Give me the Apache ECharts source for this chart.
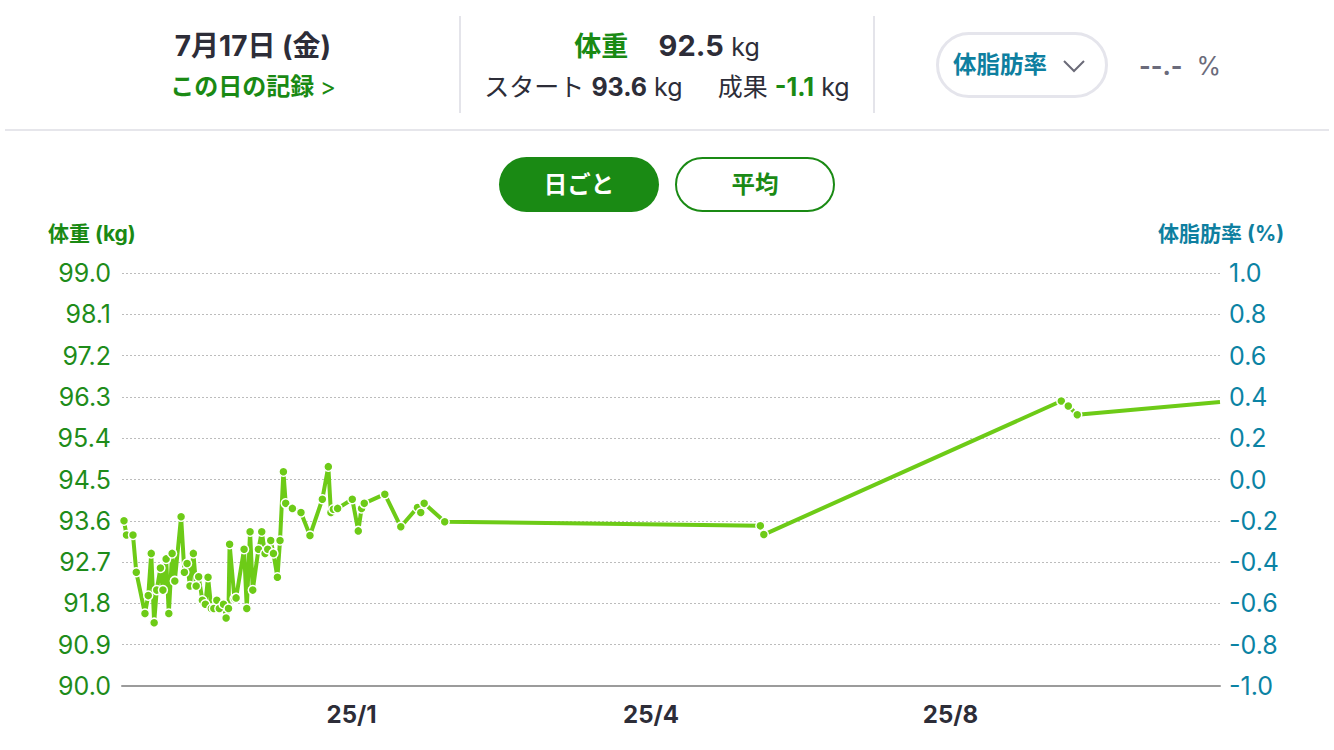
<!DOCTYPE html>
<html>
<head>
<meta charset="utf-8">
<script src="https://cdn.jsdelivr.net/npm/echarts@6/dist/echarts.min.js"></script>
<style>
  html, body { margin:0; padding:0; width:1334px; height:750px; background:#fff; overflow:hidden;
    font-family: "Inter", "Noto Sans CJK JP", sans-serif; }
  #chart { position:absolute; left:0; top:0; width:1334px; height:750px; }
  .abs { position:absolute; white-space:nowrap; }
  .green { color:#1a8a14; }
  .teal { color:#0e7fa0; }
  .dark { color:#2d2d38; }
  .b { font-weight:700; }
</style>
</head>
<body>
<div id="chart"></div>

<!-- header -->
<div class="abs dark b" style="left:0;width:506px;top:28px;text-align:center;font-size:28px;line-height:36px;">7月17日 (金)</div>
<div class="abs green b" style="left:0;width:506px;top:71px;text-align:center;font-size:24px;line-height:32px;">この日の記録 <span style="font-weight:400;">&gt;</span></div>
<div class="abs" style="left:459px;top:16px;width:2px;height:97px;background:#e4e4ea;"></div>
<div class="abs" style="left:873px;top:16px;width:2px;height:97px;background:#e4e4ea;"></div>
<div class="abs" style="left:461px;width:412px;top:27px;text-align:center;font-size:27px;line-height:38px;">
  <span class="green b">体重</span>&nbsp;&nbsp;&nbsp;&nbsp;<span class="dark b" style="font-size:29px;">92.5</span> <span class="dark" style="font-size:25px;">kg</span>
</div>
<div class="abs dark" style="left:461px;width:412px;top:71px;text-align:center;font-size:25px;line-height:32px;">
  スタート <span class="b">93.6</span> kg&nbsp;&nbsp;&nbsp;&nbsp;&nbsp;成果 <span class="green b">-1.1</span> kg
</div>
<div class="abs" style="left:936px;top:32px;width:166px;height:60px;border:3px solid #e5e5ec;border-radius:34px;"></div>
<div class="abs teal b" style="left:953px;top:49px;font-size:23.5px;line-height:32px;">体脂肪率</div>
<svg class="abs" style="left:1062px;top:58px;" width="26" height="16"><polyline points="2,3 12,13 22,3" fill="none" stroke="#6b6b78" stroke-width="2"/></svg>
<div class="abs" style="left:1139px;top:50px;font-size:25px;line-height:32px;color:#6b6b7b;"><span class="b">--.-</span>&nbsp;&nbsp;%</div>
<div class="abs" style="left:5px;top:129px;width:1324px;height:2px;background:#e6e6eb;"></div>

<!-- toggle buttons -->
<div class="abs b" style="left:499px;top:157px;width:160px;height:55px;border-radius:28px;background:#1a8a14;color:#fff;font-size:23.5px;line-height:55px;text-align:center;">日ごと</div>
<div class="abs green b" style="left:675px;top:157px;width:156px;height:51px;border-radius:28px;border:2px solid #1a8a14;font-size:23.5px;line-height:51px;text-align:center;">平均</div>

<!-- axis names -->
<div class="abs green b" style="left:48px;top:221px;font-size:21px;line-height:26px;">体重 (kg)</div>
<div class="abs teal b" style="left:1158px;top:221px;font-size:21px;line-height:26px;">体脂肪率 (%)</div>

<script>
// x = day index (chart units), weights in kg
const xDays = [0.2,0.45,1.1,1.43,2.3,2.63,2.93,3.22,3.48,3.85,4.1,4.42,4.69,5.02,5.29,5.92,6.25,6.52,6.81,7.15,7.43,7.68,
  8.05,8.35,8.62,8.95,9.2,9.5,9.75,10.17,10.43,10.67,10.78,11.27,11.43,12.23,12.5,12.83,13.1,13.67,14.0,14.33,14.6,14.9,
  15.17,15.57,15.83,16.17,16.4,17.07,17.93,18.83,20.07,20.67,20.93,21.17,21.6,23.07,23.67,24.0,24.27,26.33,27.93,29.6,
  29.93,30.27,32.33,63.95,64.3,94.1,94.8,95.7,110];
const weights = [93.6,93.29,93.29,92.48,91.58,91.97,92.89,91.38,92.09,92.57,92.09,92.77,91.58,92.89,92.29,93.69,92.48,92.67,
  92.18,92.89,92.18,92.38,91.87,91.78,92.37,91.69,91.69,91.87,91.69,91.78,91.48,91.69,93.09,91.90,91.92,92.98,91.69,93.36,
  92.09,92.98,93.36,92.89,92.98,93.17,92.89,92.37,93.17,94.67,93.98,93.87,93.78,93.28,94.07,94.78,93.78,93.85,93.87,94.07,
  93.38,93.87,93.98,94.18,93.47,93.89,93.78,93.98,93.58,93.49,93.30,96.21,96.10,95.91,96.19];
const xTickValues = [23, 53, 83];
const xTickLabels = ['25/1', '25/4', '25/8'];
const weightRange = [90, 99, 0.9];
const fatRange = [-1, 1, 0.2];

const lineGreen = '#6dcb17';
const data = xDays.map((x, i) => {
  const item = { value: [x, weights[i]] };
  if (i === xDays.length - 1) item.symbolSize = 0;
  return item;
});

const labelFont = 'Inter, "Noto Sans CJK JP", sans-serif';
const chart = echarts.init(document.getElementById('chart'), null, { renderer: 'svg' });
chart.setOption({
  animation: false,
  grid: { left: 122, right: 114, top: 273, bottom: 64, containLabel: false },
  xAxis: {
    type: 'value', min: 0, max: 110,
    axisLine: { show: true, onZero: false, lineStyle: { color: '#9b9b9b', width: 2 } },
    axisTick: { show: false },
    splitLine: { show: false },
    axisLabel: {
      customValues: xTickValues,
      formatter: v => xTickLabels[xTickValues.indexOf(v)] || '',
      color: '#2d2d38', fontWeight: 'bold', fontSize: 24, margin: 16, fontFamily: labelFont
    }
  },
  yAxis: [{
    type: 'value', min: weightRange[0], max: weightRange[1], interval: weightRange[2],
    axisLine: { show: false }, axisTick: { show: false },
    splitLine: { show: true, lineStyle: { color: '#bcbcbc', type: [2, 2], width: 1 } },
    axisLabel: { formatter: v => v.toFixed(1), color: '#1e8c1a', fontSize: 25, margin: 11, fontFamily: labelFont }
  }, {
    type: 'value', min: fatRange[0], max: fatRange[1], interval: fatRange[2], position: 'right',
    axisLine: { show: false }, axisTick: { show: false },
    splitLine: { show: false },
    axisLabel: { formatter: v => v.toFixed(1), color: '#0b83a4', fontSize: 25, margin: 9, fontFamily: labelFont }
  }],
  series: [{
    type: 'line', yAxisIndex: 0, data: data,
    symbol: 'circle', symbolSize: 9, showAllSymbol: true,
    lineStyle: { color: lineGreen, width: 4 },
    itemStyle: { color: lineGreen, borderColor: '#ffffff', borderWidth: 1.5 },
    clip: false
  }]
});
</script>
</body>
</html>
